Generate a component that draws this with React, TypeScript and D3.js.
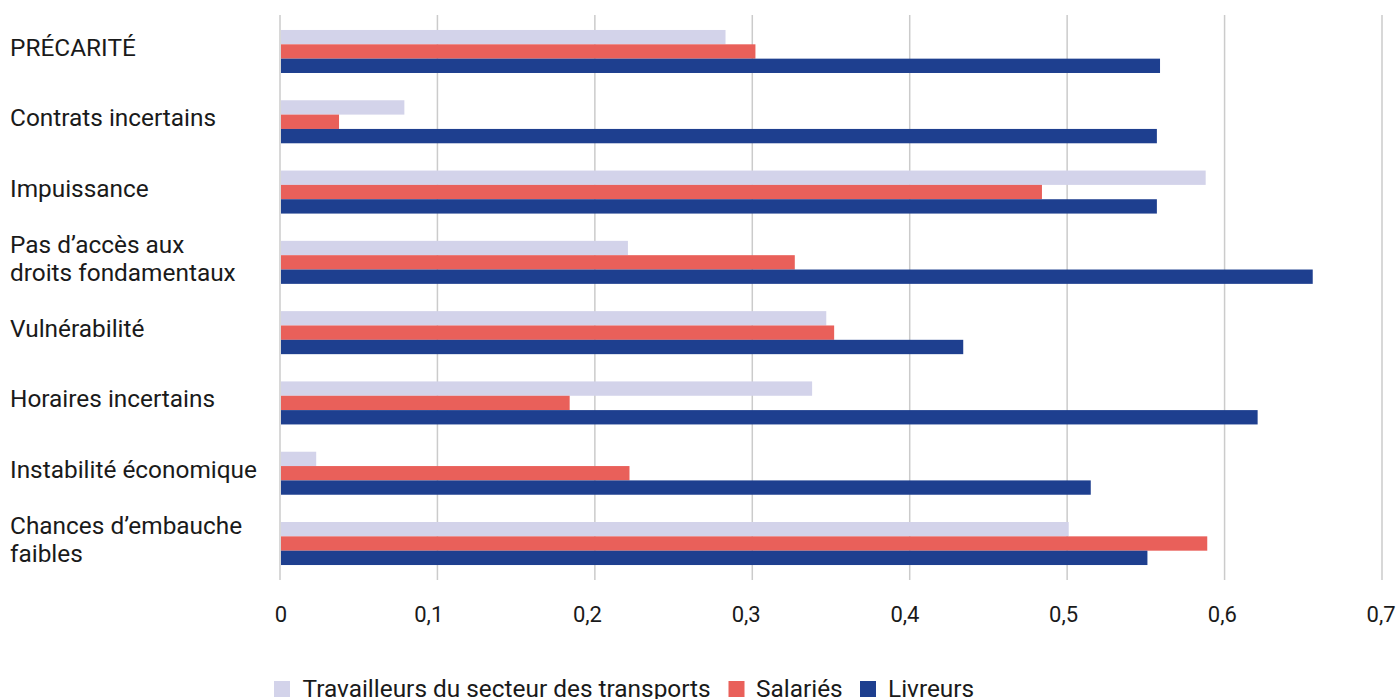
import React from "react";
import * as d3 from "d3";

const categories: string[][] = [
  ["PRÉCARITÉ"],
  ["Contrats incertains"],
  ["Impuissance"],
  ["Pas d’accès aux", "droits fondamentaux"],
  ["Vulnérabilité"],
  ["Horaires incertains"],
  ["Instabilité économique"],
  ["Chances d’embauche", "faibles"],
];
const seriesNames = ["Travailleurs du secteur des transports", "Salariés", "Livreurs"];
const transports = [0.283, 0.079, 0.588, 0.221, 0.347, 0.338, 0.023, 0.501];
const salaries = [0.302, 0.0375, 0.484, 0.327, 0.352, 0.184, 0.222, 0.589];
const livreurs = [0.559, 0.557, 0.557, 0.656, 0.434, 0.621, 0.515, 0.551];
const xTicks = [0, 0.1, 0.2, 0.3, 0.4, 0.5, 0.6, 0.7];
const colors = ["#d3d3ea", "#e9605a", "#1e3f8f"];

const W = 1397;
const H = 699;
const FONT = "Roboto, 'Noto Sans', sans-serif";

export default function App() {
  const x = d3.scaleLinear().domain([0, 0.7]).range([280, 1382]);
  const keys = categories.map((c) => c.join(" "));
  const y = d3.scaleBand<string>().domain(keys).range([15, 580]).paddingInner(0.388).paddingOuter(0.213);
  const ySub = d3.scaleBand<number>().domain([0, 1, 2]).range([0, y.bandwidth()]).padding(0);
  const values = [transports, salaries, livreurs];
  const fmt = (v: number) => (v === 0 ? "0" : d3.format(".1f")(v).replace(".", ","));
  // tick label centres drift slightly left of their gridlines in the reference
  const labelX = (t: number) => (t === 0 ? x(0) + 1 : x(t) - 10 + (t / 0.1) * 1.3);

  const legendY = 689;
  const legendItems = [
    { x: 274, tx: 302.5 },
    { x: 728.5, tx: 756 },
    { x: 860, tx: 888 },
  ];
  const fs = 24.4;

  return (
    <svg width={W} height={H} style={{ position: "absolute", left: 0, top: 0, background: "#fff" }} fontFamily={FONT}>
      {xTicks.map((t) => (
        <line key={"g" + t} x1={x(t)} x2={x(t)} y1={15} y2={580} stroke="#cbcbcb" strokeWidth={1.5} />
      ))}
      {categories.map((c, i) => (
        <g key={keys[i]} transform={`translate(0,${y(keys[i])})`}>
          {values.map((vals, s) => (
            <rect
              key={s}
              x={x(0) + 1}
              y={ySub(s)}
              width={x(vals[i]) - x(0) - 1}
              height={ySub.bandwidth()}
              fill={colors[s]}
            />
          ))}
        </g>
      ))}
      {categories.map((c, i) => {
        const cy = (y(keys[i]) as number) + y.bandwidth() / 2 - 4;
        const lh = 28;
        const y0 = cy - ((c.length - 1) * lh) / 2;
        return (
          <text key={"l" + i} x={10} fontSize={fs} fill="#1a1a1a">
            {c.map((line, j) => (
              <tspan key={j} x={10} y={y0 + j * lh} dy="0.35em">
                {line}
              </tspan>
            ))}
          </text>
        );
      })}
      {xTicks.map((t) => (
        <text key={"t" + t} x={labelX(t)} y={614} dy="0.35em" textAnchor="middle" fontSize={22} fill="#1a1a1a">
          {fmt(t)}
        </text>
      ))}
      {seriesNames.map((n, s) => (
        <g key={n}>
          <rect x={legendItems[s].x} y={legendY - 8} width={16} height={16} fill={colors[s]} />
          <text x={legendItems[s].tx} y={legendY} dy="0.33em" fontSize={fs} fill="#1a1a1a">
            {n}
          </text>
        </g>
      ))}
    </svg>
  );
}
